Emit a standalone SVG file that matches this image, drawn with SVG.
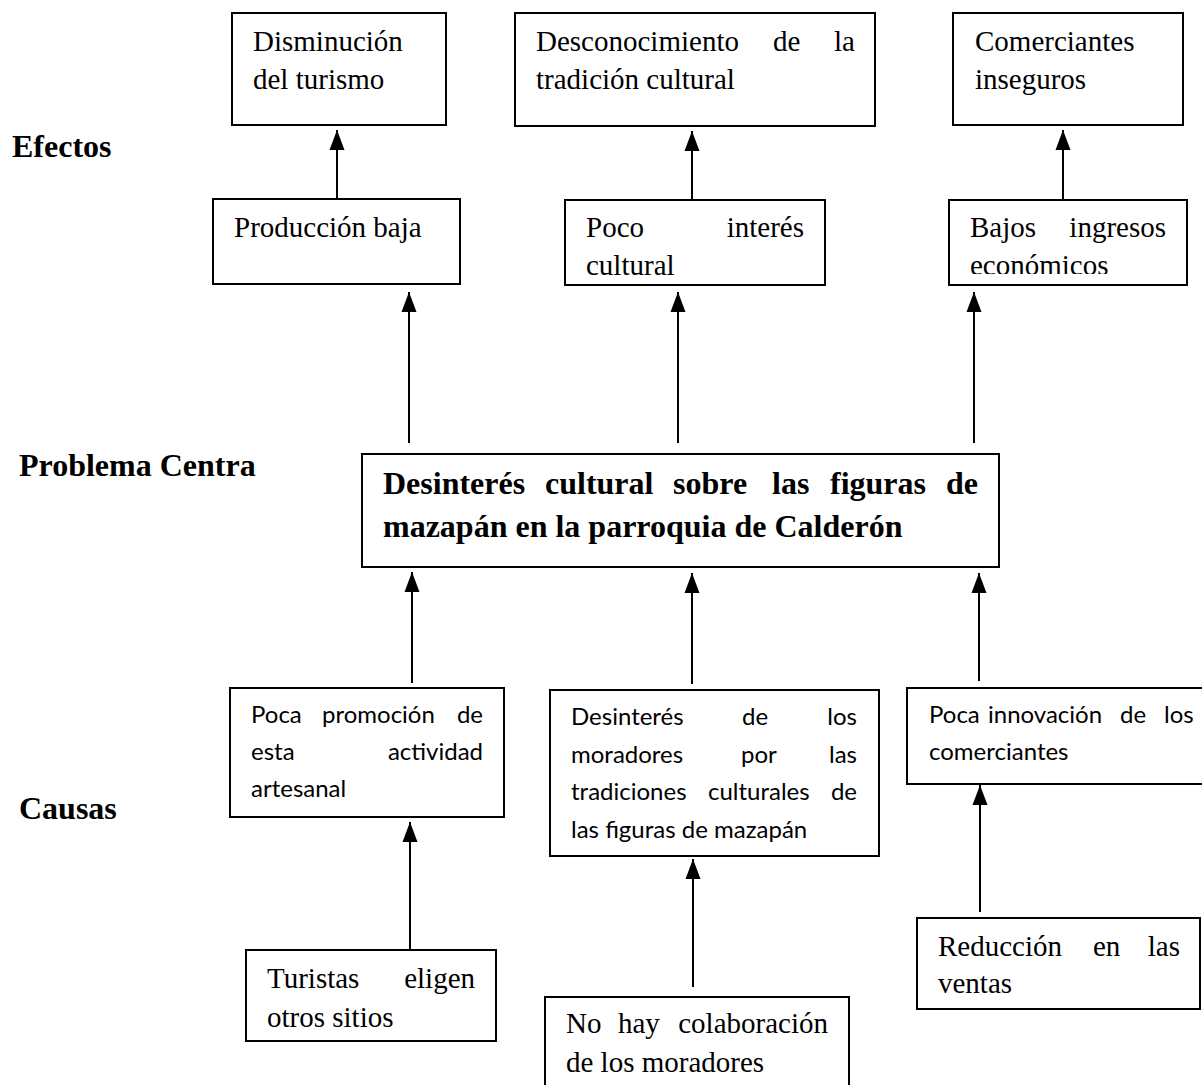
<svg xmlns="http://www.w3.org/2000/svg" width="1202" height="1085" viewBox="0 0 1202 1085">
<style>
.box{fill:#fff;stroke:#000;stroke-width:2}
.t{font-family:"Liberation Serif","Times New Roman",serif;font-size:29px;fill:#000}
.b{font-family:"Liberation Serif","Times New Roman",serif;font-size:32px;font-weight:bold;fill:#000}
.s{font-family:Lato,"Open Sans","Liberation Sans",sans-serif;font-size:24px;fill:#000}
.e{text-anchor:end}
.c line{stroke:#000;stroke-width:2;marker-end:url(#ah)}
</style>
<defs>
<marker id="ah" markerUnits="userSpaceOnUse" markerWidth="20" markerHeight="16" refX="20" refY="8" orient="auto">
<path d="M0,0.5 L20,8 L0,15.5 z" fill="#000"/>
</marker>
<clipPath id="clipBajos"><rect x="949" y="200" width="240" height="74"/></clipPath>
</defs>

<g id="labels">
<text class="b" x="12" y="157">Efectos</text>
<text class="b" x="19" y="476">Problema Centra</text>
<text class="b" x="19" y="819">Causas</text>
</g>

<g id="connectors" class="c">
<line x1="337" y1="199" x2="337" y2="130"/>
<line x1="692" y1="200" x2="692" y2="131"/>
<line x1="1063" y1="200" x2="1063" y2="130"/>
<line x1="409" y1="443" x2="409" y2="292"/>
<line x1="678" y1="443" x2="678" y2="292"/>
<line x1="974" y1="443" x2="974" y2="292"/>
<line x1="412" y1="683" x2="412" y2="572"/>
<line x1="692" y1="684" x2="692" y2="573"/>
<line x1="979" y1="681" x2="979" y2="573"/>
<line x1="410" y1="950" x2="410" y2="822"/>
<line x1="693" y1="987" x2="693" y2="859"/>
<line x1="980" y1="912" x2="980" y2="785"/>
</g>

<g id="efecto-disminucion">
<rect class="box" x="232" y="13" width="214" height="112"/>
<text class="t" x="253" y="51">Disminución</text>
<text class="t" x="253" y="89">del turismo</text>
</g>

<g id="efecto-desconocimiento">
<rect class="box" x="515" y="13" width="360" height="113"/>
<text class="t" x="536" y="51">Desconocimiento</text>
<text class="t" x="773" y="51">de</text>
<text class="t e" x="855" y="51">la</text>
<text class="t" x="536" y="89">tradición cultural</text>
</g>

<g id="efecto-comerciantes">
<rect class="box" x="953" y="13" width="230" height="112"/>
<text class="t" x="975" y="51">Comerciantes</text>
<text class="t" x="975" y="89">inseguros</text>
</g>

<g id="efecto-produccion">
<rect class="box" x="213" y="199" width="247" height="85"/>
<text class="t" x="234" y="237">Producción baja</text>
</g>

<g id="efecto-interes">
<rect class="box" x="565" y="200" width="260" height="85"/>
<text class="t" x="586" y="237">Poco</text>
<text class="t e" x="804" y="237">interés</text>
<text class="t" x="586" y="275">cultural</text>
</g>

<g id="efecto-ingresos">
<rect class="box" x="949" y="200" width="238" height="85"/>
<text class="t" x="970" y="237">Bajos</text>
<text class="t e" x="1166" y="237">ingresos</text>
<text class="t" x="970" y="275" clip-path="url(#clipBajos)">económicos</text>
</g>

<g id="problema-central">
<rect class="box" x="362" y="454" width="637" height="113"/>
<text class="b" x="383" y="494">Desinterés</text>
<text class="b" x="545" y="494">cultural</text>
<text class="b" x="673" y="494">sobre</text>
<text class="b" x="772" y="494">las</text>
<text class="b" x="830" y="494">figuras</text>
<text class="b e" x="978" y="494">de</text>
<text class="b" x="383" y="537">mazapán en la parroquia de Calderón</text>
</g>

<g id="causa-promocion">
<rect class="box" x="230" y="688" width="274" height="129"/>
<text class="s" x="251" y="723">Poca</text>
<text class="s" x="322" y="723">promoción</text>
<text class="s e" x="483" y="723">de</text>
<text class="s" x="251" y="760">esta</text>
<text class="s e" x="483" y="760">actividad</text>
<text class="s" x="251" y="797">artesanal</text>
</g>

<g id="causa-desinteres">
<rect class="box" x="550" y="690" width="329" height="166"/>
<text class="s" x="571" y="725">Desinterés</text>
<text class="s" x="742" y="725">de</text>
<text class="s e" x="857" y="725">los</text>
<text class="s" x="571" y="763">moradores</text>
<text class="s" x="741" y="763">por</text>
<text class="s e" x="857" y="763">las</text>
<text class="s" x="571" y="800">tradiciones</text>
<text class="s" x="708" y="800">culturales</text>
<text class="s e" x="857" y="800">de</text>
<text class="s" x="571" y="838">las figuras de mazapán</text>
</g>

<g id="causa-innovacion">
<rect class="box" x="907" y="688" width="310" height="96"/>
<text class="s" x="929" y="723">Poca</text>
<text class="s" x="988" y="723">innovación</text>
<text class="s" x="1120" y="723">de</text>
<text class="s" x="1164" y="723">los</text>
<text class="s" x="929" y="760">comerciantes</text>
</g>

<g id="causa-turistas">
<rect class="box" x="246" y="950" width="250" height="91"/>
<text class="t" x="267" y="988">Turistas</text>
<text class="t e" x="475" y="988">eligen</text>
<text class="t" x="267" y="1027">otros sitios</text>
</g>

<g id="causa-colaboracion">
<rect class="box" x="545" y="997" width="304" height="100"/>
<text class="t" x="566" y="1033">No</text>
<text class="t" x="618" y="1033">hay</text>
<text class="t e" x="828" y="1033">colaboración</text>
<text class="t" x="566" y="1072">de los moradores</text>
</g>

<g id="causa-ventas">
<rect class="box" x="917" y="918" width="283" height="91"/>
<text class="t" x="938" y="956">Reducción</text>
<text class="t" x="1093" y="956">en</text>
<text class="t e" x="1180" y="956">las</text>
<text class="t" x="938" y="993">ventas</text>
</g>
</svg>
